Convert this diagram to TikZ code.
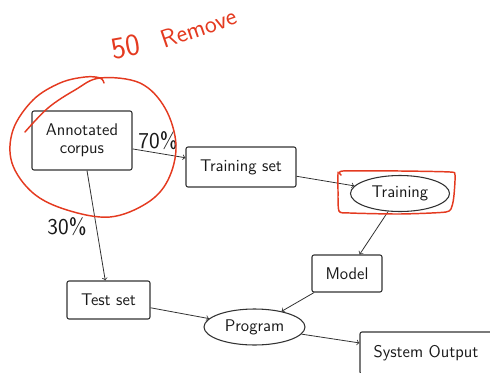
\documentclass[tikz,border=0pt]{standalone}
\usetikzlibrary{shapes.geometric}
\definecolor{ink}{RGB}{50,50,50}
\definecolor{pen}{RGB}{228,58,32}
\begin{document}
\begin{tikzpicture}[x=0.75pt,y=-0.75pt,
  lbl/.style={font=\sffamily\fontsize{12.7}{13.5}\selectfont, text=black!90, align=center, inner sep=0pt},
  box/.style={lbl, draw=ink, line width=0.8pt, rounded corners=1.5pt},
  oval/.style={lbl, ellipse, draw=ink, line width=0.8pt},
  conn/.style={->, draw=ink, line width=0.6pt},
  pct/.style={font=\sffamily\fontsize{17}{20}\selectfont, text=black!90, inner sep=0pt},
  note/.style={text=pen, font=\sffamily, inner sep=0pt},
  redpen/.style={draw=pen, line width=1.1pt, line cap=round, line join=round}]
\useasboundingbox (0,0) rectangle (490,372);
\node[box, minimum width=75pt, minimum height=44.25pt] (ac) at (82,140.5) {Annotated\\corpus};
\node[box, minimum width=82.5pt, minimum height=30pt] (ts) at (241,167) {Training set};
\node[oval, minimum width=74.25pt, minimum height=27pt] (tr) at (400,193.5) {Training};
\node[box, minimum width=52.5pt, minimum height=27.75pt] (mo) at (347,273.5) {Model};
\node[box, minimum width=62.25pt, minimum height=28.5pt] (te) at (108.5,300) {Test set};
\node[oval, minimum width=75.75pt, minimum height=27pt] (pr) at (254.5,327) {Program};
\node[box, minimum width=99pt, minimum height=31.5pt] (so) at (426,353) {System Output};
\node[pct] (p70) at (158,141) {70\%};
\node[pct] (p30) at (67,227) {30\%};
\draw[conn] (ac) -- (ts);
\draw[conn] (ac) -- (te);
\draw[conn] (ts) -- (tr);
\draw[conn] (tr) -- (mo);
\draw[conn] (mo) -- (pr);
\draw[conn] (te) -- (pr);
\draw[conn] (pr) -- (so);
% red annotations
\node[note, rotate=10, font=\sffamily\fontsize{23}{23}\selectfont] (n50) at (126,47) {50};
\node[note, rotate=19, font=\sffamily\fontsize{19}{19}\selectfont] (nrm) at (199,28) {Remove};
\draw[redpen] plot[smooth, tension=0.6] coordinates {(25,132) (48,108) (75,90) (100,78) (140,83) (165,108) (176,145) (168,180) (147,203) (110,217) (67,210) (33,193) (12,163) (13,130) (33,100) (60,83) (85,77) (100,78) (104,83)};
\draw[redpen] plot[smooth, tension=0.4] coordinates {(341,175) (343,171) (400,171) (450,172) (455,175) (454,195) (452,206) (446,212) (400,214) (350,213) (339,211) (338,190) (338,172)};
\end{tikzpicture}
\end{document}
